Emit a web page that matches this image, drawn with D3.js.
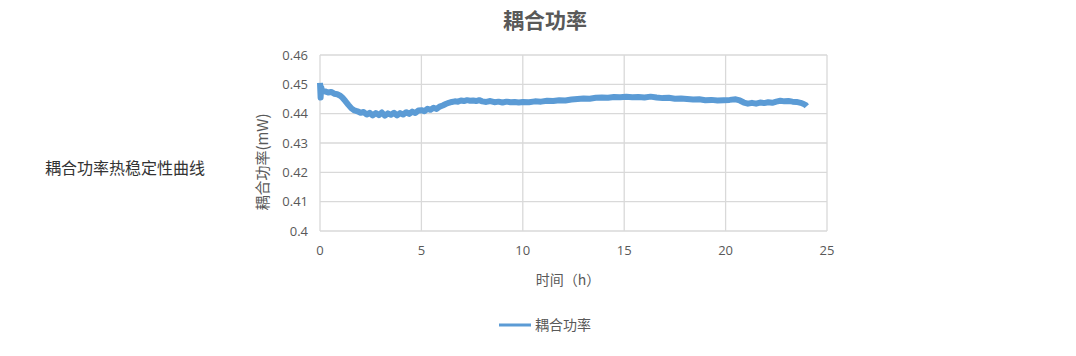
<!DOCTYPE html>
<meta charset="utf-8">
<html>
<head>
<script src="https://d3js.org/d3.v7.min.js"></script>
<style>
  body { margin: 0; background: #fff; }
  text { font-family: "Open Sans", "Noto Sans CJK SC", sans-serif; }
</style>
</head>
<body>
<div id="viz"></div>
<script>
// time (h) and coupling power (mW)
const hours = [0.00, 0.03, 0.06, 0.10, 0.25, 0.40, 0.55, 0.70, 0.85, 1.00, 1.10, 1.25, 1.40, 1.55, 1.70, 1.85,
  2.00, 2.15, 2.30, 2.45, 2.60, 2.75, 2.90, 3.05, 3.20, 3.35, 3.50, 3.65, 3.80, 3.95, 4.10, 4.25, 4.40, 4.55,
  4.70, 4.85, 5.00, 5.15, 5.30, 5.45, 5.60, 5.75, 5.90, 6.05, 6.20, 6.35, 6.50, 6.65, 6.80, 6.95, 7.10, 7.25,
  7.40, 7.55, 7.70, 7.85, 8.00, 8.20, 8.40, 8.60, 8.80, 9.00, 9.20, 9.40, 9.60, 9.80, 10.0, 10.3, 10.6, 10.9,
  11.2, 11.5, 11.8, 12.1, 12.4, 12.7, 13.0, 13.3, 13.6, 13.9, 14.2, 14.5, 14.8, 15.1, 15.4, 15.7, 16.0, 16.3,
  16.6, 16.9, 17.2, 17.5, 17.8, 18.1, 18.4, 18.7, 19.0, 19.3, 19.6, 19.9, 20.2, 20.5, 20.7, 20.9, 21.1, 21.3,
  21.5, 21.7, 21.9, 22.1, 22.3, 22.5, 22.7, 22.9, 23.1, 23.3, 23.5, 23.7, 23.85, 23.95, 24.0];
const power = [0.4505, 0.4455, 0.4490, 0.4478, 0.4476, 0.4472, 0.4474, 0.4468, 0.4466, 0.4461, 0.4455, 0.4443,
  0.4430, 0.4418, 0.4411, 0.4408, 0.4403, 0.4406, 0.4397, 0.4403, 0.4394, 0.4402, 0.4395, 0.4404, 0.4393,
  0.4401, 0.4396, 0.4403, 0.4394, 0.4402, 0.4397, 0.4405, 0.4399, 0.4407, 0.4402, 0.4411, 0.4412, 0.4408,
  0.4417, 0.4413, 0.4420, 0.4416, 0.4424, 0.4428, 0.4433, 0.4437, 0.4440, 0.4442, 0.4441, 0.4445, 0.4443,
  0.4446, 0.4444, 0.4445, 0.4443, 0.4446, 0.4442, 0.4440, 0.4443, 0.4439, 0.4441, 0.4438, 0.4441, 0.4439,
  0.4440, 0.4438, 0.4440, 0.4439, 0.4442, 0.4441, 0.4444, 0.4443, 0.4446, 0.4445, 0.4448, 0.4450, 0.4452,
  0.4451, 0.4454, 0.4455, 0.4454, 0.4457, 0.4456, 0.4458, 0.4456, 0.4457, 0.4455, 0.4458, 0.4455, 0.4453,
  0.4454, 0.4451, 0.4452, 0.4450, 0.4448, 0.4449, 0.4446, 0.4447, 0.4445, 0.4446, 0.4447, 0.4449, 0.4445,
  0.4438, 0.4434, 0.4437, 0.4434, 0.4438, 0.4436, 0.4439, 0.4437, 0.4441, 0.4444, 0.4442, 0.4443, 0.4441,
  0.4440, 0.4437, 0.4433, 0.4429, 0.4425];
const xTicks = [0, 5, 10, 15, 20, 25];
const yTicks = [0.4, 0.41, 0.42, 0.43, 0.44, 0.45, 0.46];

const chartTitle = "耦合功率",
    seriesName = "耦合功率",
    xTitle = "时间（h）",
    yTitle = "耦合功率(mW)",
    sideNote = "耦合功率热稳定性曲线";

const w = 1076, h = 356;
const margin = {top: 55, bottom: 125, left: 320, right: 249};
const lineColor = "#5B9BD5", gridColor = "#d9d9d9", labelColor = "#595959";

const svg = d3.select("#viz").append("svg")
    .attr("width", w)
    .attr("height", h);

const x = d3.scaleLinear().domain([0, 25]).range([margin.left, w - margin.right]);
const y = d3.scaleLinear().domain([0.4, 0.46]).range([h - margin.bottom, margin.top]);

// gridlines
svg.append("g").selectAll("line.hgrid")
    .data(yTicks)
    .join("line")
    .attr("x1", x(0)).attr("x2", x(25))
    .attr("y1", d => y(d)).attr("y2", d => y(d))
    .attr("stroke", gridColor).attr("stroke-width", 1.3);
svg.append("g").selectAll("line.vgrid")
    .data(xTicks)
    .join("line")
    .attr("x1", d => x(d)).attr("x2", d => x(d))
    .attr("y1", y(0.46)).attr("y2", y(0.4))
    .attr("stroke", gridColor).attr("stroke-width", 1.3);

// tick labels
svg.append("g").selectAll("text")
    .data(yTicks)
    .join("text")
    .attr("x", x(0) - 12)
    .attr("y", d => y(d) + 4.5)
    .attr("text-anchor", "end")
    .attr("font-size", 13)
    .attr("fill", labelColor)
    .text(d => d3.format("~g")(d));
svg.append("g").selectAll("text")
    .data(xTicks)
    .join("text")
    .attr("x", d => x(d))
    .attr("y", y(0.4) + 24)
    .attr("text-anchor", "middle")
    .attr("font-size", 13)
    .attr("fill", labelColor)
    .text(d => d);

// series
const pts = hours.map((t, i) => [t, power[i]]);
svg.append("path")
    .datum(pts)
    .attr("fill", "none")
    .attr("stroke", lineColor)
    .attr("stroke-width", 6)
    .attr("stroke-linejoin", "round")
    .attr("d", d3.line().x(d => x(d[0])).y(d => y(d[1])));

// titles
svg.append("text")
    .attr("x", 545).attr("y", 28)
    .attr("text-anchor", "middle")
    .attr("font-size", 21)
    .attr("font-weight", "bold")
    .attr("fill", labelColor)
    .style("font-family", "'Noto Sans CJK SC', sans-serif")
    .text(chartTitle);

svg.append("text")
    .attr("transform", `translate(268,162) rotate(-90)`)
    .attr("text-anchor", "middle")
    .attr("font-size", 15)
    .attr("fill", labelColor)
    .style("font-family", "'Noto Sans CJK SC', sans-serif")
    .text(yTitle);

svg.append("text")
    .attr("x", 568).attr("y", 285)
    .attr("text-anchor", "middle")
    .attr("font-size", 14)
    .attr("fill", labelColor)
    .style("font-family", "'Noto Sans CJK SC', sans-serif")
    .text(xTitle);

// legend
svg.append("line")
    .attr("x1", 499).attr("x2", 531)
    .attr("y1", 325).attr("y2", 325)
    .attr("stroke", lineColor).attr("stroke-width", 3);
svg.append("text")
    .attr("x", 535).attr("y", 330)
    .attr("font-size", 14)
    .attr("fill", labelColor)
    .style("font-family", "'Noto Sans CJK SC', sans-serif")
    .text(seriesName);

// side caption
svg.append("text")
    .attr("x", 45).attr("y", 174)
    .attr("font-size", 16)
    .attr("fill", "#333")
    .style("font-family", "'Noto Sans CJK SC', sans-serif")
    .text(sideNote);
</script>
</body>
</html>
